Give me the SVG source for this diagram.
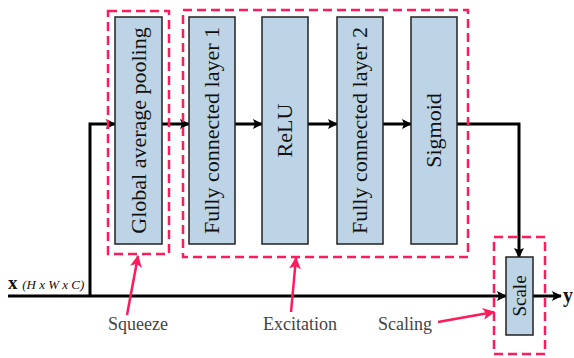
<svg xmlns="http://www.w3.org/2000/svg" width="574" height="358" viewBox="0 0 574 358">
<style>
.box{fill:#bcd4e5;stroke:#222;stroke-width:1.5}
.lbl{font-family:"Liberation Serif",serif;font-size:22px;fill:#111;text-anchor:middle}
.grp{fill:none;stroke:#ff1a5c;stroke-width:2.5;stroke-dasharray:9 5}
.ln{fill:none;stroke:#000;stroke-width:3}
.pk{fill:none;stroke:#ff1a5c;stroke-width:2.5}
.cap{font-family:"Liberation Serif",serif;font-size:18px;fill:#444}
</style>
<defs>
<marker id="ah" markerWidth="10" markerHeight="10" refX="9" refY="5" orient="auto" markerUnits="userSpaceOnUse"><path d="M0,0 L10,5 L0,10 L2,5 Z" fill="#000"/></marker>
<marker id="ap" markerWidth="12" markerHeight="12" refX="11" refY="6" orient="auto" markerUnits="userSpaceOnUse"><path d="M0,0 L12,6 L0,12 L3,6 Z" fill="#ff1a5c"/></marker>
</defs>
<g id="connectors">
<line class="ln" x1="8" y1="296" x2="506" y2="296" marker-end="url(#ah)"/>
<polyline class="ln" points="90,296 90,124 115,124" marker-end="url(#ah)"/>
<line class="ln" x1="162" y1="124" x2="189" y2="124" marker-end="url(#ah)"/>
<line class="ln" x1="235" y1="124" x2="262" y2="124" marker-end="url(#ah)"/>
<line class="ln" x1="308" y1="124" x2="337" y2="124" marker-end="url(#ah)"/>
<line class="ln" x1="383" y1="124" x2="411" y2="124" marker-end="url(#ah)"/>
<polyline class="ln" points="457,124 519,124 519,257" marker-end="url(#ah)"/>
<line class="ln" x1="533" y1="296" x2="561" y2="296" marker-end="url(#ah)"/>
<line class="pk" x1="127" y1="315" x2="138" y2="256" marker-end="url(#ap)"/>
<line class="pk" x1="291" y1="312" x2="296" y2="258" marker-end="url(#ap)"/>
<line class="pk" x1="438" y1="322" x2="494" y2="312" marker-end="url(#ap)"/>
</g>
<g id="squeeze-group"><rect class="grp" x="108" y="11" width="61" height="243"/></g>
<g id="excitation-group"><rect class="grp" x="183" y="10" width="285" height="247"/></g>
<g id="scaling-group"><rect class="grp" x="494" y="237" width="51" height="117"/></g>
<g id="gap"><rect class="box" x="115" y="17" width="47" height="227"/><text class="lbl" transform="translate(146,130.5) rotate(-90)">Global average pooling</text></g>
<g id="fc1"><rect class="box" x="189" y="17" width="46" height="227"/><text class="lbl" transform="translate(219,130.5) rotate(-90)">Fully connected layer 1</text></g>
<g id="relu"><rect class="box" x="262" y="17" width="46" height="227"/><text class="lbl" transform="translate(292,130.5) rotate(-90)">ReLU</text></g>
<g id="fc2"><rect class="box" x="337" y="17" width="46" height="227"/><text class="lbl" transform="translate(367,130.5) rotate(-90)">Fully connected layer 2</text></g>
<g id="sigmoid"><rect class="box" x="411" y="17" width="46" height="227"/><text class="lbl" transform="translate(441,130.5) rotate(-90)">Sigmoid</text></g>
<g id="scale"><rect class="box" x="506" y="257" width="27" height="78"/><text class="lbl" style="font-size:19px" transform="translate(526,296) rotate(-90)">Scale</text></g>
<g id="labels">
<text x="8" y="289" style="font-family:'Liberation Serif',serif;font-size:19px;font-weight:bold;fill:#111">x <tspan style="font-size:13px;font-weight:normal;font-style:italic">(H x W x C)</tspan></text>
<text x="563" y="302" style="font-family:'Liberation Serif',serif;font-size:20px;font-weight:bold;fill:#111">y</text>
<text class="cap" x="108" y="330">Squeeze</text>
<text class="cap" x="263" y="330">Excitation</text>
<text class="cap" x="378" y="330">Scaling</text>
</g>
</svg>
